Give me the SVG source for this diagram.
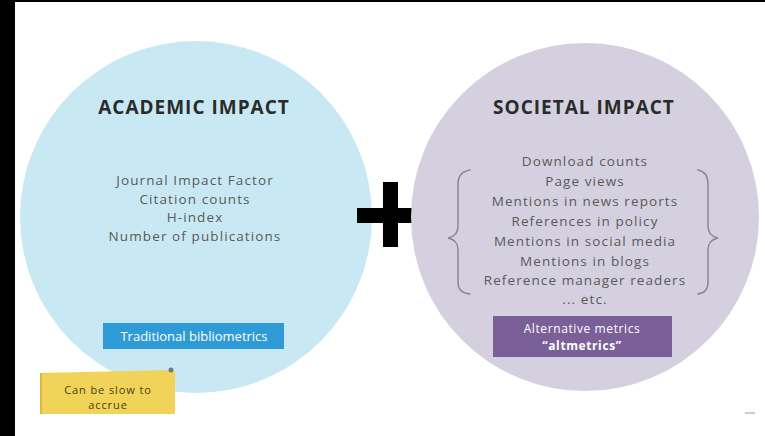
<svg xmlns="http://www.w3.org/2000/svg" width="765" height="436" viewBox="0 0 765 436">
  <style>
    .head { font-family: "Open Sans", "Noto Sans", "Liberation Sans", sans-serif; font-weight: 700; font-size: 19px; letter-spacing: 1px; fill: #2b2b2b; text-anchor: middle; }
    .item { font-family: "Open Sans", "Noto Sans", "Liberation Sans", sans-serif; font-size: 13.5px; letter-spacing: 1.1px; fill: #5a5a5a; text-anchor: middle; }
    .tag { font-family: "Open Sans", "Noto Sans", "Liberation Sans", sans-serif; font-size: 13px; fill: #ffffff; text-anchor: middle; }
    .tag2 { font-family: "Open Sans", "Noto Sans", "Liberation Sans", sans-serif; font-size: 12px; letter-spacing: 0.6px; fill: #ffffff; text-anchor: middle; }
    .note { font-family: "Open Sans", "Noto Sans", "Liberation Sans", sans-serif; font-size: 11px; letter-spacing: 0.9px; fill: #4a3e10; text-anchor: middle; }
    .brace { fill: none; stroke: #8a8794; stroke-width: 1.5; stroke-linecap: round; }
  </style>
  <rect x="0" y="0" width="765" height="436" fill="#ffffff"/>
  <rect x="0" y="0" width="765" height="2" fill="#000000"/>
  <rect x="0" y="0" width="15" height="436" fill="#000000"/>

  <g id="academic">
    <circle cx="196" cy="217" r="176" fill="#c8e9f3"/>
    <text class="head" x="194" y="114">ACADEMIC IMPACT</text>
    <text class="item" x="195" y="185">Journal Impact Factor</text>
    <text class="item" x="195" y="203.7">Citation counts</text>
    <text class="item" x="195" y="222.4">H-index</text>
    <text class="item" x="195" y="241.1">Number of publications</text>
  </g>

  <g id="traditional">
    <rect x="103" y="323" width="181" height="26" fill="#2e9ad6"/>
    <text class="tag" x="194" y="340.5">Traditional bibliometrics</text>
  </g>

  <g id="note">
    <path d="M40,373 L171,370 L175,372 L175,414 L40,414 Z" fill="#f2d35a"/>
    <rect x="40" y="373" width="2" height="41" fill="#d9b944"/>
    <circle cx="171" cy="370" r="2.5" fill="#6f7a80"/>
    <text class="note" x="108" y="393.5">Can be slow to</text>
    <text class="note" x="108" y="409">accrue</text>
  </g>

  <g id="plus">
    <rect x="383" y="182" width="15" height="65" fill="#000000"/>
    <rect x="357" y="208" width="66" height="15" fill="#000000"/>
  </g>

  <g id="societal">
    <circle cx="585" cy="217" r="174" fill="#d4d0e0"/>
    <text class="head" x="584" y="114">SOCIETAL IMPACT</text>
    <text class="item" x="585" y="166">Download counts</text>
    <text class="item" x="585" y="186">Page views</text>
    <text class="item" x="585" y="206">Mentions in news reports</text>
    <text class="item" x="585" y="226">References in policy</text>
    <text class="item" x="585" y="246">Mentions in social media</text>
    <text class="item" x="585" y="266">Mentions in blogs</text>
    <text class="item" x="585" y="285">Reference manager readers</text>
    <text class="item" x="585" y="304">... etc.</text>
    <path class="brace" d="M470,170 Q458,172 458,184 L458,226 Q458,236 448,238 Q458,240 458,250 L458,282 Q458,293 470,294"/>
    <path class="brace" d="M698,170 Q708,172 708,184 L708,226 Q708,236 718,238 Q708,240 708,250 L708,282 Q708,293 698,294"/>
  </g>

  <g id="altmetrics">
    <rect x="493" y="316" width="179" height="41" fill="#7a5f98"/>
    <text class="tag2" x="582" y="333">Alternative metrics</text>
    <text class="tag2" x="582" y="350" font-weight="700">“altmetrics”</text>
  </g>

  <g id="connectors"></g>

  <line x1="745" y1="413" x2="755" y2="413" stroke="#9a9a9a" stroke-width="1"/>
</svg>
